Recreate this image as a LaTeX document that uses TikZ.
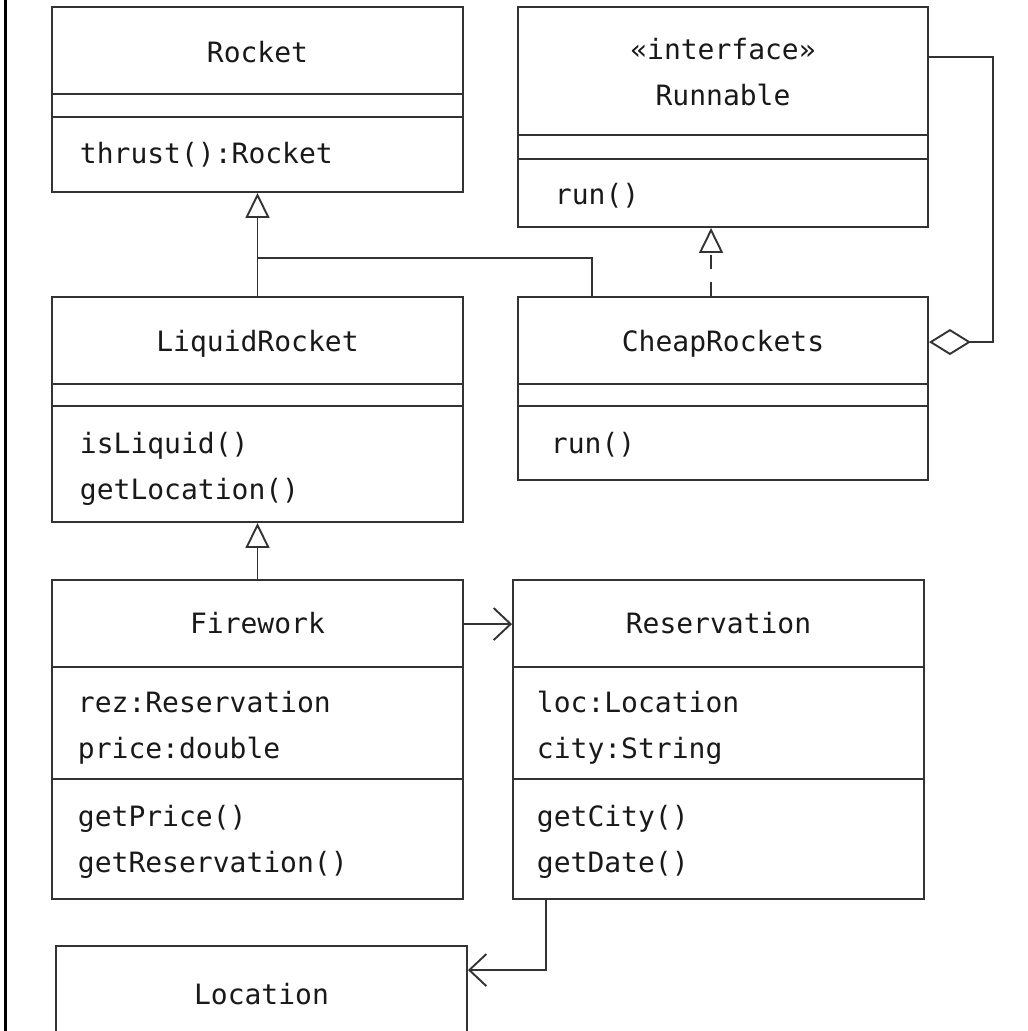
\documentclass[tikz,border=0pt]{standalone}
\usepackage{fontspec}
\newfontfamily\umlfont{DejaVu Sans Mono}
\usetikzlibrary{arrows.meta}

\begin{document}
\begin{tikzpicture}
[x=1pt,y=-1pt,line width=1.9pt,
 cls/.style={draw=black!80,rectangle,minimum width=411pt,inner sep=0pt},
 title/.style={anchor=base,inner sep=0pt,text=black!90,font=\umlfont\fontsize{28}{34}\selectfont},
 member/.style={anchor=base west,inner sep=0pt,text=black!90,font=\umlfont\fontsize{28}{34}\selectfont},
 gen/.style={draw=black!80,-{Triangle[open,length=25pt,width=24pt]}},
 real/.style={gen,dash pattern=on 14pt off 13pt},
 agg/.style={draw=black!80,-{Diamond[open,length=42pt,width=26pt]}},
 nav/.style={draw=black!80,-{Straight Barb[length=17pt,width=32pt]}}]
\useasboundingbox (0,0) rectangle (1028,1031);
\clip (0,0) rectangle (1028,1031);
\draw[line width=3pt,black] (5.8,0) -- (5.8,1031);
% classes
\node[cls,minimum height=185pt] (rocket) at (257.5,99.5) {};
\node[title] (rocketname) at (257.5,62) {Rocket};
\foreach \y in {94,117} \draw[black!80] (rocket.west |- 0,\y) -- (rocket.east |- 0,\y);
\node[member] (thrust) at (79,163) {thrust():Rocket};
\node[cls,minimum width=410pt,minimum height=220pt] (runnable) at (723,117) {};
\node[title] (stereo) at (723,59) {«interface»};
\node[title] (runnablename) at (723,105) {Runnable};
\foreach \y in {135,159} \draw[black!80] (runnable.west |- 0,\y) -- (runnable.east |- 0,\y);
\node[member] (runnablerun) at (554,204) {run()};
\node[cls,minimum height=225pt] (liquid) at (257.5,409.5) {};
\node[title] (liquidname) at (257.5,351) {LiquidRocket};
\foreach \y in {384,406} \draw[black!80] (liquid.west |- 0,\y) -- (liquid.east |- 0,\y);
\node[member] (isliquid) at (79,453) {isLiquid()};
\node[member] (getlocation) at (79,499) {getLocation()};
\node[cls,minimum width=410pt,minimum height=183pt] (cheap) at (723,388.5) {};
\node[title] (cheapname) at (723,351) {CheapRockets};
\foreach \y in {384,406} \draw[black!80] (cheap.west |- 0,\y) -- (cheap.east |- 0,\y);
\node[member] (cheaprun) at (550,453) {run()};
\node[cls,minimum height=319pt] (firework) at (257.5,739.5) {};
\node[title] (fireworkname) at (257.5,633) {Firework};
\foreach \y in {667,779} \draw[black!80] (firework.west |- 0,\y) -- (firework.east |- 0,\y);
\node[member] (rez) at (77,712) {rez:Reservation};
\node[member] (price) at (77,758) {price:double};
\node[member] (getprice) at (77,826) {getPrice()};
\node[member] (getrez) at (77,872) {getReservation()};
\node[cls,minimum height=319pt] (reservation) at (718.5,739.5) {};
\node[title] (reservationname) at (718.5,633) {Reservation};
\foreach \y in {667,779} \draw[black!80] (reservation.west |- 0,\y) -- (reservation.east |- 0,\y);
\node[member] (loc) at (536,712) {loc:Location};
\node[member] (city) at (536,758) {city:String};
\node[member] (getcity) at (536,826) {getCity()};
\node[member] (getdate) at (536,872) {getDate()};
\node[cls,minimum height=114pt] (location) at (261.5,1003) {};
\node[title] (locationname) at (261.5,1004) {Location};
% relations
\draw[gen] (liquid.north) -- (rocket.south);
\draw[black!80] ([xshift=75pt]cheap.north west) |- (rocket.south |- 0,258);
\draw[real] ([xshift=194pt]cheap.north west) -- ([xshift=194pt]runnable.south west);
\draw[agg] ([yshift=-51pt]runnable.north east) -- ++(64,0) |- ([yshift=-46pt]cheap.north east);
\draw[gen] (firework.north) -- (liquid.south);
\draw[nav] ([yshift=-45pt]firework.north east) -- ([yshift=-45pt]reservation.north west);
\draw[nav] ([xshift=34pt]reservation.south west) |- ([yshift=-25pt]location.north east);
\end{tikzpicture}
\end{document}
